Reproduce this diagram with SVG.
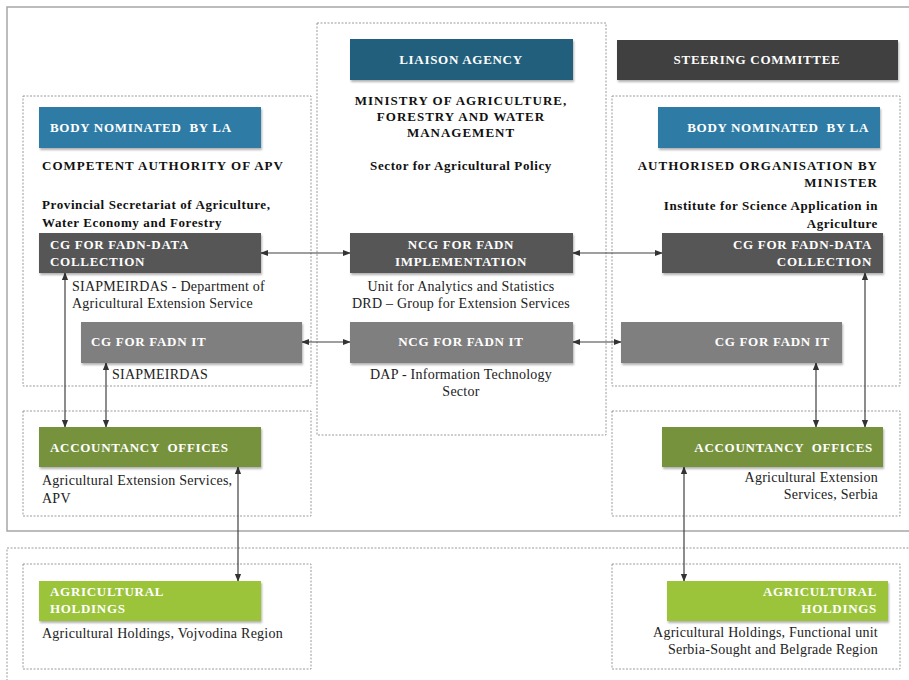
<svg xmlns="http://www.w3.org/2000/svg" width="909" height="680" viewBox="0 0 909 680">
<defs>
<style>
.frame{fill:none;stroke:#a6a6a6;stroke-width:1.5}
.dash{fill:none;stroke:#9a9a9a;stroke-width:1;stroke-dasharray:2 1.5}
.hd{font-family:"Liberation Serif",serif;font-weight:bold;font-size:13px;fill:#ffffff;letter-spacing:0.7px}
.tb{font-family:"Liberation Serif",serif;font-weight:bold;font-size:13px;fill:#111111;letter-spacing:1px}
.ts{font-family:"Liberation Serif",serif;font-weight:bold;font-size:13px;fill:#111111;letter-spacing:0.6px}
.tn{font-family:"Liberation Serif",serif;font-size:14px;fill:#222222;letter-spacing:0.25px}
.mid{text-anchor:middle}
.end{text-anchor:end}
.c{fill:none;stroke:#404040;stroke-width:1.2;marker-start:url(#a);marker-end:url(#a)}
</style>
<marker id="a" viewBox="0 0 10 10" refX="9" refY="5" markerWidth="8" markerHeight="8" markerUnits="userSpaceOnUse" orient="auto-start-reverse">
<path d="M0,1 L10,5 L0,9 Z" fill="#333333"/>
</marker>
<filter id="sh" x="-5%" y="-10%" width="115%" height="130%">
<feDropShadow dx="1" dy="2" stdDeviation="1.2" flood-color="#000" flood-opacity="0.3"/>
</filter>
</defs>
<rect width="909" height="680" fill="#ffffff"/>
<g id="frames">
<rect class="frame" x="7" y="7" width="910" height="524"/>
<rect class="dash" x="7" y="548" width="910" height="140"/>
<rect class="dash" x="23" y="96" width="288" height="290"/>
<rect class="dash" x="23" y="411" width="288" height="105"/>
<rect class="dash" x="23" y="564" width="288" height="105"/>
<rect class="dash" x="317" y="23" width="289" height="412"/>
<rect class="dash" x="612" y="96" width="288" height="290"/>
<rect class="dash" x="612" y="411" width="288" height="105"/>
<rect class="dash" x="612" y="564" width="288" height="105"/>
</g>
<g id="connectors">
<line class="c" x1="261" y1="253" x2="350" y2="253"/>
<line class="c" x1="573" y1="253" x2="662" y2="253"/>
<line class="c" x1="302" y1="342" x2="350" y2="342"/>
<line class="c" x1="573" y1="342" x2="621" y2="342"/>
<line class="c" x1="65" y1="273" x2="65" y2="427"/>
<line class="c" x1="106" y1="363" x2="106" y2="427"/>
<line class="c" x1="238" y1="467" x2="238" y2="581"/>
<line class="c" x1="865" y1="273" x2="865" y2="427"/>
<line class="c" x1="816" y1="363" x2="816" y2="427"/>
<line class="c" x1="684" y1="467" x2="684" y2="581"/>
</g>
<g id="left-body">
<rect x="39" y="107" width="222" height="41" fill="#2e7ba6" filter="url(#sh)"/>
<text class="hd" x="50" y="132" xml:space="preserve">BODY NOMINATED  BY LA</text>
<text class="tb" x="42" y="170">COMPETENT AUTHORITY OF APV</text>
<text class="ts" x="42" y="209">Provincial Secretariat of Agriculture,</text>
<text class="ts" x="42" y="227">Water Economy and Forestry</text>
</g>
<g id="left-cg-data">
<rect x="39" y="233" width="222" height="40" fill="#575757" filter="url(#sh)"/>
<text class="hd" x="50" y="249">CG FOR FADN-DATA</text>
<text class="hd" x="50" y="266">COLLECTION</text>
<text class="tn" x="72" y="291">SIAPMEIRDAS - Department of</text>
<text class="tn" x="72" y="308">Agricultural Extension Service</text>
</g>
<g id="left-cg-it">
<rect x="81" y="322" width="221" height="41" fill="#7f7f7f" filter="url(#sh)"/>
<text class="hd" x="91" y="346">CG FOR FADN IT</text>
<text class="tn" x="112" y="379">SIAPMEIRDAS</text>
</g>
<g id="left-accountancy">
<rect x="39" y="427" width="222" height="40" fill="#76923c" filter="url(#sh)"/>
<text class="hd" x="50" y="452" xml:space="preserve">ACCOUNTANCY  OFFICES</text>
<text class="tn" x="42" y="485">Agricultural Extension Services,</text>
<text class="tn" x="42" y="503">APV</text>
</g>
<g id="left-holdings">
<rect x="39" y="581" width="222" height="40" fill="#9bc43a" filter="url(#sh)"/>
<text class="hd" x="50" y="596">AGRICULTURAL</text>
<text class="hd" x="50" y="613">HOLDINGS</text>
<text class="tn" x="42" y="638">Agricultural Holdings, Vojvodina Region</text>
</g>
<g id="liaison">
<rect x="350" y="39" width="223" height="41" fill="#215f7c" filter="url(#sh)"/>
<text class="hd mid" x="461" y="64">LIAISON AGENCY</text>
<text class="tb mid" x="461" y="105">MINISTRY OF AGRICULTURE,</text>
<text class="tb mid" x="461" y="121">FORESTRY AND WATER</text>
<text class="tb mid" x="461" y="137">MANAGEMENT</text>
<text class="ts mid" x="461" y="170">Sector for Agricultural Policy</text>
</g>
<g id="ncg-impl">
<rect x="350" y="233" width="223" height="40" fill="#575757" filter="url(#sh)"/>
<text class="hd mid" x="461" y="249">NCG FOR FADN</text>
<text class="hd mid" x="461" y="266">IMPLEMENTATION</text>
<text class="tn mid" x="461" y="291">Unit for Analytics and Statistics</text>
<text class="tn mid" x="461" y="308">DRD – Group for Extension Services</text>
</g>
<g id="ncg-it">
<rect x="350" y="322" width="223" height="41" fill="#7f7f7f" filter="url(#sh)"/>
<text class="hd mid" x="461" y="346">NCG FOR FADN IT</text>
<text class="tn mid" x="461" y="379">DAP - Information Technology</text>
<text class="tn mid" x="461" y="396">Sector</text>
</g>
<g id="steering">
<rect x="617" y="40" width="281" height="40" fill="#404040" filter="url(#sh)"/>
<text class="hd mid" x="757" y="64">STEERING COMMITTEE</text>
</g>
<g id="right-body">
<rect x="658" y="107" width="222" height="41" fill="#2e7ba6" filter="url(#sh)"/>
<text class="hd end" x="869" y="132" xml:space="preserve">BODY NOMINATED  BY LA</text>
<text class="tb end" x="878" y="170">AUTHORISED ORGANISATION BY</text>
<text class="tb end" x="878" y="187">MINISTER</text>
<text class="ts end" x="878" y="210">Institute for Science Application in</text>
<text class="ts end" x="878" y="228">Agriculture</text>
</g>
<g id="right-cg-data">
<rect x="662" y="233" width="221" height="40" fill="#575757" filter="url(#sh)"/>
<text class="hd end" x="872" y="249">CG FOR FADN-DATA</text>
<text class="hd end" x="872" y="266">COLLECTION</text>
</g>
<g id="right-cg-it">
<rect x="621" y="322" width="221" height="41" fill="#7f7f7f" filter="url(#sh)"/>
<text class="hd end" x="830" y="346">CG FOR FADN IT</text>
</g>
<g id="right-accountancy">
<rect x="662" y="427" width="221" height="40" fill="#76923c" filter="url(#sh)"/>
<text class="hd end" x="873" y="452" xml:space="preserve">ACCOUNTANCY  OFFICES</text>
<text class="tn end" x="878" y="482">Agricultural Extension</text>
<text class="tn end" x="878" y="499">Services, Serbia</text>
</g>
<g id="right-holdings">
<rect x="667" y="581" width="221" height="40" fill="#9bc43a" filter="url(#sh)"/>
<text class="hd end" x="877" y="596">AGRICULTURAL</text>
<text class="hd end" x="877" y="613">HOLDINGS</text>
<text class="tn end" x="878" y="637">Agricultural Holdings, Functional unit</text>
<text class="tn end" x="878" y="654">Serbia-Sought and Belgrade Region</text>
</g>
</svg>
